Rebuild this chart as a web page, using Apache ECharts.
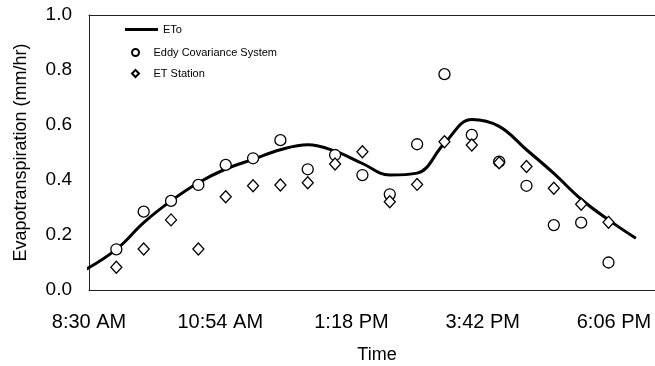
<!DOCTYPE html>
<html>
<head>
<meta charset="utf-8">
<script src="https://cdn.jsdelivr.net/npm/echarts@6/dist/echarts.min.js"></script>
<style>
  html, body { margin: 0; padding: 0; background: #fff; }
  #chart { width: 655px; height: 366px; }
</style>
</head>
<body>
<div id="chart"></div>
<script>
// sample times (clock) and readings
const pointTimes = ['9:00','9:30','10:00','10:30','11:00','11:30','12:00','12:30','13:00','13:30',
  '14:00','14:30','15:00','15:30','16:00','16:30','17:00','17:30','18:00']
const eddyValues = [0.148,0.285,0.324,0.382,0.455,0.479,0.545,0.439,0.491,0.418,
  0.348,0.530,0.785,0.564,0.467,0.379,0.236,0.245,0.100]
const stationValues = [0.083,0.149,0.255,0.149,0.339,0.379,0.382,0.390,0.458,0.503,
  0.321,0.384,0.539,0.527,0.463,0.449,0.370,0.312,0.246]
const etoTimes = ['8:23','9:00','9:30','10:00','10:30','11:00','11:30','12:00','12:30','13:00','13:30',
  '14:00','14:30','15:00','15:30','16:00','16:30','17:00','17:30','18:00','18:30']
const etoValues = [0.068,0.148,0.245,0.324,0.390,0.440,0.475,0.510,0.528,0.505,0.460,
  0.418,0.425,0.533,0.620,0.595,0.510,0.424,0.330,0.255,0.188]
const yTicks = [0, 0.2, 0.4, 0.6, 0.8, 1.0]

const START = 8 * 60 + 30 // axis starts at 8:30 AM
const STEP = 144          // 2h24m between time labels

function toMin(s) {
  const [h, m] = s.split(':').map(Number)
  return h * 60 + m - START
}
function clock(v) {
  let t = v + START
  let h = Math.floor(t / 60), m = t % 60
  const ap = h >= 12 ? 'PM' : 'AM'
  h = h % 12 === 0 ? 12 : h % 12
  return h + ':' + (m < 10 ? '0' + m : m) + ' ' + ap
}
const pair = (ts, vs) => ts.map((t, i) => [toMin(t), vs[i]])

const font = 'Liberation Sans, Arial, sans-serif'
const chart = echarts.init(document.getElementById('chart'))
chart.setOption({
  animation: false,
  backgroundColor: '#fff',
  textStyle: { fontFamily: font, color: '#000' },
  grid: { left: 89, right: 0, top: 15, bottom: 76, outerBoundsMode: 'none' },
  legend: [
    {
      data: [{ name: 'ETo', icon: 'rect' }],
      left: 120, top: 19, itemWidth: 33, itemHeight: 3, itemGap: 0,
      textStyle: { fontFamily: font, fontSize: 11, color: '#000' }
    },
    {
      data: [
        { name: 'Eddy Covariance System', icon: 'circle' },
        { name: 'ET Station', icon: 'path://M0,-1L1,0L0,1L-1,0Z' }
      ],
      orient: 'vertical', left: 126, top: 42, itemWidth: 26, itemHeight: 7, itemGap: 10,
      symbolKeepAspect: true,
      textStyle: { fontFamily: font, fontSize: 11, color: '#000' }
    }
  ],
  xAxis: [
    {
      type: 'value', min: 0, max: 621, interval: STEP,
      name: 'Time', nameLocation: 'middle', nameGap: 56,
      nameTextStyle: { fontSize: 18, color: '#000', padding: [0, 0, 0, 10] },
      axisLine: { lineStyle: { color: '#222', width: 1 } },
      axisTick: { show: false },
      splitLine: { show: false },
      axisLabel: {
        fontSize: 20, color: '#000', margin: 22,
        formatter: v => (v % STEP === 0 ? clock(v) : '')
      }
    },
    {
      type: 'value', position: 'top', min: 0, max: 621,
      axisLine: { show: true, lineStyle: { color: '#222', width: 1 } },
      axisTick: { show: false }, axisLabel: { show: false }, splitLine: { show: false }
    }
  ],
  yAxis: {
    type: 'value', min: yTicks[0], max: yTicks[yTicks.length - 1], interval: 0.2,
    name: 'Evapotranspiration (mm/hr)', nameLocation: 'middle', nameGap: 59,
    nameTextStyle: { fontSize: 18, color: '#000' },
    axisLine: { show: true, lineStyle: { color: '#222', width: 1 } },
    axisTick: { show: false },
    splitLine: { show: false },
    axisLabel: { fontSize: 19, color: '#000', margin: 17, formatter: v => v.toFixed(1) }
  },
  series: [
    {
      name: 'ETo', type: 'line', data: pair(etoTimes, etoValues),
      smooth: 0.4, showSymbol: false, symbol: 'none', clip: false,
      lineStyle: { color: '#000', width: 3 }, itemStyle: { color: '#000' }, z: 2
    },
    {
      name: 'Eddy Covariance System', type: 'scatter', data: pair(pointTimes, eddyValues),
      symbol: 'circle', symbolSize: 11,
      itemStyle: { color: '#fff', borderColor: '#000', borderWidth: 1.3, opacity: 1 }, z: 3
    },
    {
      name: 'ET Station', type: 'scatter', data: pair(pointTimes, stationValues),
      symbol: 'diamond', symbolSize: [11, 12],
      itemStyle: { color: '#fff', borderColor: '#000', borderWidth: 1.3, opacity: 1 }, z: 4
    }
  ]
})
</script>
</body>
</html>
